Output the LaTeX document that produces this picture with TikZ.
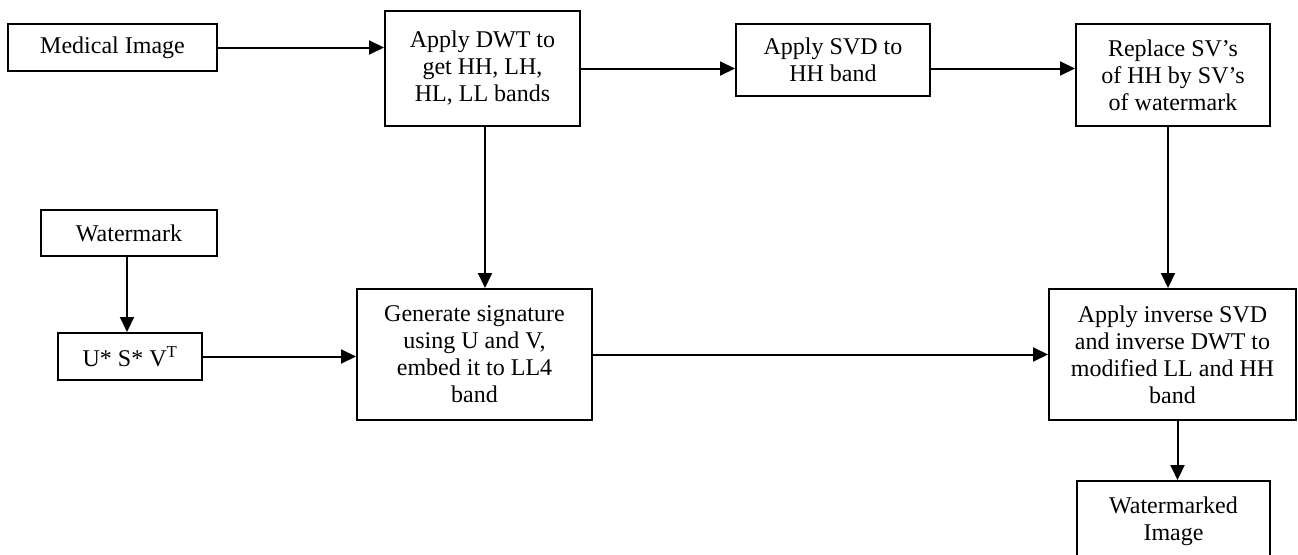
\documentclass[tikz,border=0pt]{standalone}
\usepackage{fontspec}
\setmainfont{Liberation Serif}
\usepackage{tikz}
\usetikzlibrary{arrows.meta}

\begin{document}
\begin{tikzpicture}[x=1pt,y=-1pt,
    box/.style={draw,line width=2pt,align=center,inner sep=0pt,
      font=\fontsize{24}{27}\selectfont},
    arr/.style={line width=2pt,-{Triangle[length=15pt,width=14pt]}}]
          \useasboundingbox (0,0) rectangle (1298,554);
          \clip (0,0) rectangle (1298,554);
          \node[box,minimum width=209pt,minimum height=47pt] (med) at (112.5,47.5) {Medical Image};
          \node[box,minimum width=195pt,minimum height=115pt] (dwt) at (482.5,68.5) {Apply DWT to\\get HH, LH,\\HL, LL bands};
          \node[box,minimum width=194pt,minimum height=72pt] (svd) at (833,60) {Apply SVD to\\HH band};
          \node[box,minimum width=194pt,minimum height=102pt] (repl) at (1173,75) {Replace SV's\\of HH by SV's\\of watermark};
          \node[box,minimum width=176pt,minimum height=46pt] (wm) at (129,233) {Watermark};
          \node[box,minimum width=144pt,minimum height=47pt] (usv) at (130,356.5) {U* S* V\textsuperscript{T}};
          \node[box,minimum width=235pt,minimum height=131pt] (gen) at (474.5,354.5) {Generate signature\\using U and V,\\embed it to LL4\\band};
          \node[box,minimum width=247pt,minimum height=131pt] (inv) at (1172.5,354.5) {Apply inverse SVD\\and inverse DWT to\\modified LL and HH\\band};
          \node[box,minimum width=193pt,minimum height=84pt,text depth=8pt] (wmi) at (1173.5,523) {Watermarked\\Image};
          \draw[arr] (med.east) -- (med.east -| dwt.west);
          \draw[arr] (dwt.east) -- (dwt.east -| svd.west);
          \draw[arr] (dwt.east -| svd.east) -- (dwt.east -| repl.west);
          \draw[arr] ([xshift=-5pt]repl.south) -- ([xshift=-5pt]repl.south |- inv.north);
          \draw[arr] (dwt.south -| 485,0) -- (485,0 |- gen.north);
          \draw[arr] (wm.south -| 127,0) -- (127,0 |- usv.north);
          \draw[arr] (usv.east) -- (usv.east -| gen.west);
          \draw[arr] (gen.east) -- (gen.east -| inv.west);
          \draw[arr] ([xshift=5pt]inv.south) -- ([xshift=5pt]inv.south |- wmi.north);
        \end{tikzpicture}
\end{document}
